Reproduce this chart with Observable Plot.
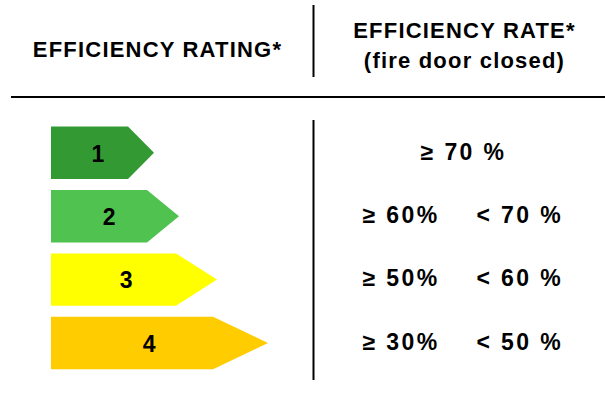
<!DOCTYPE html>
<html>
<head>
<meta charset="utf-8">
<script src="https://cdn.jsdelivr.net/npm/d3@7"></script>
<script src="https://cdn.jsdelivr.net/npm/@observablehq/plot@0.6"></script>
<style>
  body { margin: 0; background: #fff; }
</style>
</head>
<body>
<div id="chart"></div>
<script>
// ---- data ----
const ratings = [1, 2, 3, 4];
const ratingLabels = ["1", "2", "3", "4"];
const ratingColors = ["#339933", "#50C24F", "#FFFF00", "#FFCC00"];
const bodyLength = [77, 96, 125, 162];   // length of the flat part of each arrow
const tipLength = [103, 128, 166, 217];  // length up to the arrow tip
const rateFrom = ["≥ 70 %", "≥ 60%", "≥ 50%", "≥ 30%"];
const rateTo = ["", "< 70 %", "< 60 %", "< 50 %"];
const headerLeft = ["EFFICIENCY RATING*"];
const headerRight = ["EFFICIENCY RATE*", "(fire door closed)"];

// ---- layout (scale units) ----
const half = 0.413;             // half arrow height in row units
const colRateCenter = 411;
const colFrom = 311;
const colTo = 425;
const colDivider = 262;
const yPx = px => 1 + (px - 152.8) / 63.4; // row units for a pixel offset (layout only)

const arrowPts = ratings.flatMap((r, i) => [
  {rating: r, y: r - half, x: bodyLength[i], color: ratingColors[i]},
  {rating: r, y: r, x: tipLength[i], color: ratingColors[i]},
  {rating: r, y: r + half, x: bodyLength[i], color: ratingColors[i]}
]);

const rows = ratings.map((r, i) => ({r, label: ratingLabels[i], tip: tipLength[i], from: rateFrom[i], to: rateTo[i]}));

const font = "Liberation Sans, Arial, Helvetica, sans-serif";
const HEAD = 22, RATE = 23, NUM = 23;

const chart = Plot.plot({
  width: 605,
  height: 401,
  margin: 0,
  x: {domain: [-51, 554], range: [0, 605], axis: null},
  y: {domain: [yPx(0), yPx(401)], range: [0, 401], axis: null},
  color: {type: "identity"},
  style: {fontFamily: font, background: "#fff", color: "#000"},
  marks: [
    Plot.areaX(arrowPts, {y: "y", x1: 0, x2: "x", z: "rating", fill: "color", curve: "linear"}),
    Plot.text(rows, {x: d => d.tip * 0.45, y: "r", text: "label", dy: 1, fontSize: NUM, fontWeight: "bold", fill: "#000"}),
    Plot.text(rows.filter(d => !d.to), {x: colRateCenter + 1, y: "r", text: "from", dy: -1, fontSize: RATE, fontWeight: "bold", fill: "#000", textAnchor: "middle"}),
    Plot.text(rows.filter(d => d.to), {x: colFrom, y: "r", text: "from", dy: -1, fontSize: RATE, fontWeight: "bold", fill: "#000", textAnchor: "start"}),
    Plot.text(rows.filter(d => d.to), {x: colTo, y: "r", text: "to", dy: -1, fontSize: RATE, fontWeight: "bold", fill: "#000", textAnchor: "start"}),
    Plot.text(headerLeft, {x: 106, frameAnchor: "top", dy: 41, text: d => d, fontSize: HEAD, fontWeight: "bold", fill: "#000"}),
    Plot.text(headerRight.slice(0, 1), {x: colRateCenter + 2, frameAnchor: "top", dy: 22, text: d => d, fontSize: HEAD, fontWeight: "bold", fill: "#000"}),
    Plot.text(headerRight.slice(1), {x: colRateCenter + 2, frameAnchor: "top", dy: 52, text: d => d, fontSize: HEAD, fontWeight: "bold", fill: "#000"}),
    Plot.ruleX([colDivider], {insetTop: 5, insetBottom: 324, stroke: "#000", strokeWidth: 2}),
    Plot.ruleX([colDivider], {insetTop: 120, insetBottom: 21, stroke: "#000", strokeWidth: 2}),
    Plot.ruleY([yPx(96.5)], {x1: -40, x2: 554, stroke: "#000", strokeWidth: 2.2})
  ]
});

// letter spacing per text size
d3.select(chart).selectAll("text").each(function () {
  const g = this.closest("g[font-size]");
  const fs = g ? +g.getAttribute("font-size") : 0;
  if (/^\d$/.test(this.textContent)) return;
  if (fs === HEAD) this.style.letterSpacing = "1.2px";
  else if (fs === RATE) this.style.letterSpacing = "2.4px";
});

document.getElementById("chart").append(chart);
</script>
</body>
</html>
